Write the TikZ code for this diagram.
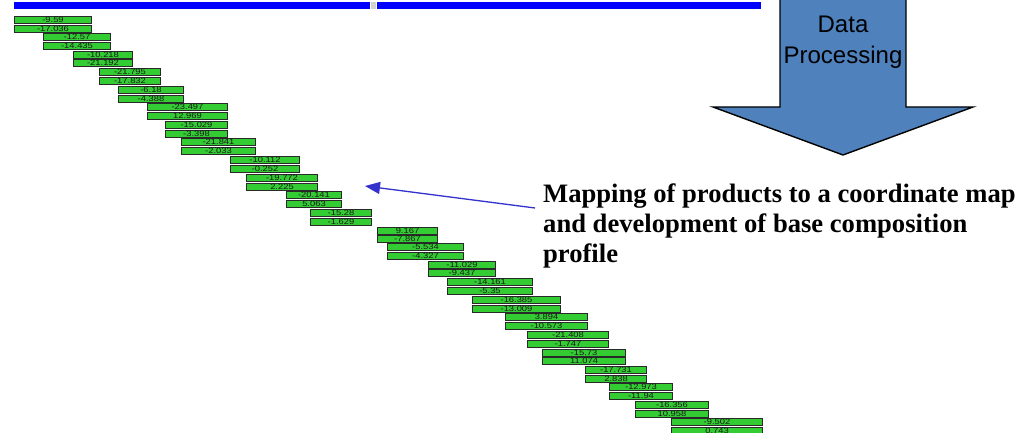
\documentclass[tikz,border=0pt]{standalone}
\usepackage{fontspec}
\setmainfont{Liberation Serif}
\newfontfamily\arialf{Liberation Sans}
\usetikzlibrary{arrows.meta}
\definecolor{barfill}{HTML}{33CC33}
\definecolor{barline}{HTML}{2A2A2A}
\definecolor{topblue}{HTML}{0000FF}
\definecolor{procblue}{HTML}{4F81BD}
\definecolor{ptrblue}{HTML}{3333CC}
\tikzset{
  barbox/.style={draw=barline, line width=1pt, fill=barfill, inner sep=0pt,
    minimum height=7pt, anchor=north west,
    font=\arialf\fontsize{7.8}{7.8}\selectfont, text=black!90},
  captext/.style={anchor=base west, inner sep=0pt,
    font=\fontsize{26.6}{30}\selectfont\bfseries},
  proctext/.style={anchor=base, inner sep=0pt,
    font=\arialf\fontsize{24}{30}\selectfont},
  procarrow/.style={fill=procblue, draw=black, line width=1.4pt, line join=miter},
  pointer/.style={draw=ptrblue, line width=1.3pt,
    -{Triangle[length=15pt,width=12pt]}, fill=ptrblue}
}
\begin{document}
\begin{tikzpicture}[x=1pt,y=1pt]
\useasboundingbox (0,0) rectangle (1036,-433);
\clip (0,0) rectangle (1036,-433);
% top blue bar
\fill[topblue] (14,-2) rectangle (370,-9);
\fill[black!18] (371,-2) rectangle (376,-9);
\fill[topblue] (377,-2) rectangle (761,-9);
% bars
\foreach \xa/\xb/\ya/\yb/\ta/\tb [count=\i] in {
 14/91/16/25/-9.59/-17.036,
 43/110/33/42/-12.57/-14.435,
 73/132/51/59/-10.218/-21.192,
 99/160/68/77/-21.795/-17.832,
 118/183/86/95/-6.18/-4.388,
 147/227/103/112/-23.497/12.969,
 165/227/121/130/-15.029/-3.398,
 181/255/138/147/-21.841/-2.033,
 230/299/156/165/-10.112/-0.252,
 246/317/174/183/-19.772/2.225,
 286/341/191/200/-20.141/5.063,
 310/371/209/218/-15.28/-1.629,
 377/437/227/235/9.167/-7.867,
 387/463/243/252/-5.534/-4.327,
 428/495/261/269/-11.029/-9.437,
 447/532/278/287/-14.161/-5.35,
 472/560/296/305/-16.385/-13.009,
 505/587/313/322/3.894/-10.573,
 527/608/331/340/-21.408/-1.747,
 542/625/349/357/-15.73/11.074,
 585/646/366/375/-17.731/2.838,
 609/672/383/392/-12.973/-11.94,
 635/708/401/410/-16.356/10.958,
 671/762/418/427/-9.502/0.743}
{
  \node[barbox, minimum width={(\xb-\xa)*1pt}] (ba\i) at (\xa,-\ya) {\scalebox{1.2}[1]{\ta}};
  \node[barbox, minimum width={(\xb-\xa)*1pt}] (bb\i) at (\xa,-\yb) {\scalebox{1.2}[1]{\tb}};
}
% data processing arrow
\draw[procarrow] (780,6) -- (780,-107) -- (713,-107) -- (843,-155) -- (973,-107)
  -- (906,-107) -- (906,6);
\node[proctext] (dp1) at (843,-33) {Data};
\node[proctext] (dp2) at (843,-64) {Processing};
% caption
\node[captext] (t1) at (543,-202) {Mapping of products to a coordinate map};
\node[captext] (t2) at (543,-232) {and development of base composition};
\node[captext] (t3) at (543,-262) {profile};
\coordinate (ptail) at (535,-208);
\coordinate (ptip) at (365,-186);
\draw[pointer] (ptail) -- (ptip);
\end{tikzpicture}
\end{document}
